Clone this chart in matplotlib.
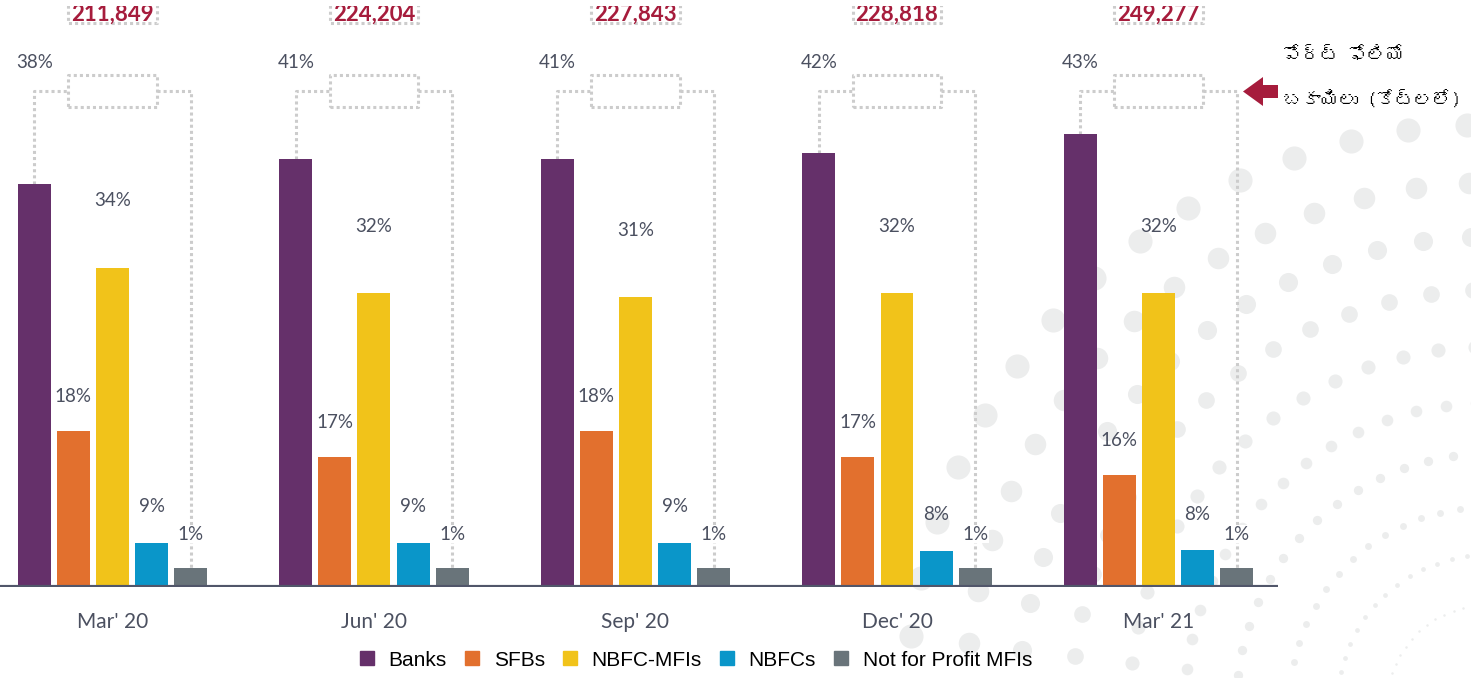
import matplotlib
matplotlib.use("Agg")
import matplotlib.pyplot as plt
import numpy as np
from matplotlib import font_manager
from matplotlib.ft2font import FT2Font
from matplotlib.lines import Line2D
from matplotlib.patches import FancyArrow

periods = ["Mar' 20", "Jun' 20", "Sep' 20", "Dec' 20", "Mar' 21"]
lenders = ["Banks", "SFBs", "NBFC-MFIs", "NBFCs", "Not for Profit MFIs"]
portfolio = ["211,849", "224,204", "227,843", "228,818", "249,277"]

# share of portfolio (%) per lender
banks = [38, 41, 41, 42, 43]
sfbs = [18, 17, 18, 17, 16]
nbfc_mfis = [34, 32, 31, 32, 32]
nbfcs = [9, 9, 9, 8, 8]
nfp = [1, 1, 1, 1, 1]

# bar heights as drawn in the source chart (it is not to scale with the %)
banks_h = [403, 428, 428, 434, 453]
sfbs_h = [156, 130, 156, 130, 112]
nbfc_mfis_h = [319, 294, 290, 294, 294]
nbfcs_h = [44, 44, 44, 36, 37]
nfp_h = [19, 19, 19, 19, 19]

side_title = ["పోర్ట్ ఫోలియో", "బకాయిలు (కోట్లలో)"]

colors = ["#65306A", "#E2702E", "#F1C31A", "#0A96C9", "#69747A"]
label_col = "#4B5060"
red = "#A61C3C"
dot_col = "#CCCCCC"


def font_with(ch, fallback="DejaVu Sans"):
    for f in font_manager.fontManager.ttflist:
        try:
            if FT2Font(f.fname).get_char_index(ord(ch)):
                return f.name
        except Exception:
            pass
    return fallback


telugu = font_with("ప")

W, H = 1471, 678
fig = plt.figure(figsize=(W / 100, H / 100), dpi=100)

# background: light dotted burst + arrow, in pixel coords
bg = fig.add_axes([0, 0, 1, 1], zorder=0)
bg.set_xlim(0, W)
bg.set_ylim(H, 0)
bg.axis("off")
cx, cy = 1487, 705
for r in [100, 150, 198, 251, 302, 358, 415, 468, 522, 580]:
    ang = np.deg2rad(np.arange(92, 186, 5.8))
    d = max(2.5, 0.045 * r - 2)
    bg.scatter(cx + r * np.cos(ang), cy - r * np.sin(ang), s=(d * 0.72) ** 2,
               color="#ECEDED", lw=0)
bg.add_patch(FancyArrow(1278, 91.5, -35, 0, width=13, head_width=29,
                        head_length=20, length_includes_head=True,
                        color=red, lw=0))
for i, line in enumerate(side_title):
    bg.text(1283, 55 + 45 * i, line, fontsize=13.5, weight="bold",
            family=[telugu, "DejaVu Sans"],
            color="black", va="center", ha="left")

# main chart
ax = fig.add_axes([0, 91 / H, 1278 / W, (587 - 6) / H], zorder=1)
ax.patch.set_alpha(0)
ax.set_xlim(-0.430, 4.457)
ax.set_ylim(0, 581)

pitch = 0.1495
bw = 0.126
x = np.arange(len(periods))
heights = [banks_h, sfbs_h, nbfc_mfis_h, nbfcs_h, nfp_h]
shares = [banks, sfbs, nbfc_mfis, nbfcs, nfp]
lift = [None, 34, 67, 36, 34]

for k in range(5):
    xs = x + (k - 2) * pitch
    ax.bar(xs, heights[k], width=bw, color=colors[k], zorder=3)
    for i in range(len(x)):
        if k == 0:
            y = 525
        else:
            y = heights[k][i] + lift[k]
        ax.text(xs[i], y, f"{shares[k][i]}%", ha="center", va="center",
                fontsize=13.5, family="Lato", color=label_col, zorder=5,
                bbox=dict(fc="white", ec="none", pad=0.5) if k == 4 else None)

# dotted brackets and total portfolio boxes
yb, bx = 496, 0.170
dl = dict(color=dot_col, lw=2.2, ls=(0, (1, 1)), zorder=2)
for i in range(len(x)):
    xl = x[i] - 2 * pitch
    xr = x[i] + 2 * pitch
    ax.plot([xl, xl, x[i] - bx], [banks_h[i], yb, yb], **dl)
    ax.plot([x[i] + bx, xr, xr], [yb, yb, nfp_h[i]], **dl)
    ax.plot([x[i] - bx, x[i] + bx, x[i] + bx, x[i] - bx, x[i] - bx],
            [480, 480, 512, 512, 480], **dl)
    ax.plot([x[i] - bx, x[i] - bx, x[i] + bx, x[i] + bx],
            [590, 564, 564, 590], **dl)
    ax.text(x[i], 566, portfolio[i], ha="center", va="baseline", fontsize=16,
            family="Lato", weight="bold", color=red, clip_on=True)

ax.axhline(0, color="#51566A", lw=3, zorder=4)
for s in ax.spines.values():
    s.set_visible(False)
ax.set_yticks([])
ax.set_xticks(x)
ax.set_xticklabels(periods, fontsize=15, family="Lato", color=label_col)
ax.tick_params(axis="x", length=0, pad=18)

handles = [Line2D([], [], marker="s", ls="", color=c, markersize=9.5) for c in colors]
fig.legend(handles, lenders, loc="center", bbox_to_anchor=(696 / W, 1 - 660 / H),
           ncol=5, frameon=False, prop=dict(family="Liberation Sans", size=15),
           handlelength=0.7, handletextpad=0.68, columnspacing=0.87,
           borderaxespad=0, borderpad=0)

fig.savefig("out.png", dpi=100)
